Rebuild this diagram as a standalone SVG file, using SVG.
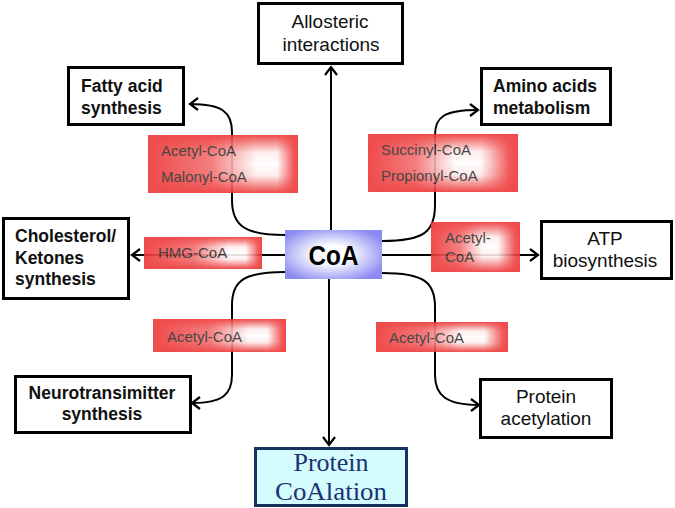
<svg xmlns="http://www.w3.org/2000/svg" width="675" height="508" viewBox="0 0 675 508">
<defs>
  <style>
    .box { fill: #ffffff; stroke: #000000; stroke-width: 3; }
    .bt { font-family: "Liberation Sans", Arial, sans-serif; font-size: 17.5px; font-weight: bold; fill: #111111; }
    .nt { font-family: "Liberation Sans", Arial, sans-serif; font-size: 19px; fill: #111111; }
    .lt { font-family: "Liberation Sans", Arial, sans-serif; font-size: 15px; fill: #333333; }
    .conn { fill: none; stroke: #000000; stroke-width: 2; }
    .lab { opacity: 0.9; }
  </style>
  <marker id="arr" markerUnits="userSpaceOnUse" markerWidth="14" markerHeight="14" viewBox="-12 -7 14 14" refX="0" refY="0" orient="auto">
    <path d="M -8 -6 L 0 0 L -8 6" fill="none" stroke="#000" stroke-width="2.2" stroke-linejoin="miter"/>
  </marker>
  <linearGradient id="h72" x1="0" y1="0" x2="1" y2="0">
    <stop offset="0" stop-color="#ee3838"/>
    <stop offset="0.38" stop-color="#f37272"/>
    <stop offset="0.64" stop-color="#ffffff"/>
    <stop offset="0.82" stop-color="#ffffff"/>
    <stop offset="0.96" stop-color="#f04a4a"/>
    <stop offset="1" stop-color="#ee3838"/>
  </linearGradient>
  <linearGradient id="h82" x1="0" y1="0" x2="1" y2="0">
    <stop offset="0" stop-color="#ee3838"/>
    <stop offset="0.42" stop-color="#f37272"/>
    <stop offset="0.72" stop-color="#ffffff"/>
    <stop offset="0.86" stop-color="#ffffff"/>
    <stop offset="0.97" stop-color="#f04a4a"/>
    <stop offset="1" stop-color="#ee3838"/>
  </linearGradient>
  <linearGradient id="h64" x1="0" y1="0" x2="1" y2="0">
    <stop offset="0" stop-color="#ee3838"/>
    <stop offset="0.32" stop-color="#f37272"/>
    <stop offset="0.58" stop-color="#ffffff"/>
    <stop offset="0.75" stop-color="#ffffff"/>
    <stop offset="0.94" stop-color="#f04a4a"/>
    <stop offset="1" stop-color="#ee3838"/>
  </linearGradient>
  <linearGradient id="vr" x1="0" y1="0" x2="0" y2="1">
    <stop offset="0" stop-color="#ee3838" stop-opacity="1"/>
    <stop offset="0.3" stop-color="#ee3838" stop-opacity="0.1"/>
    <stop offset="0.5" stop-color="#ee3838" stop-opacity="0"/>
    <stop offset="0.7" stop-color="#ee3838" stop-opacity="0.1"/>
    <stop offset="1" stop-color="#ee3838" stop-opacity="1"/>
  </linearGradient>
  <radialGradient id="coa" cx="0.48" cy="0.5" r="0.6">
    <stop offset="0" stop-color="#ffffff"/>
    <stop offset="0.3" stop-color="#ffffff"/>
    <stop offset="1" stop-color="#8a8af2"/>
  </radialGradient>
</defs>
<rect width="675" height="508" fill="#ffffff"/>

<g id="connectors">
  <path class="conn" d="M 331 230 L 331 67" marker-end="url(#arr)"/>
  <path class="conn" d="M 285 255 L 132 255" marker-end="url(#arr)"/>
  <path class="conn" d="M 382 255 L 538 255" marker-end="url(#arr)"/>
  <path class="conn" d="M 329 279 L 329 445" marker-end="url(#arr)"/>
  <path class="conn" d="M 285 235 C 245 235 232 226 232 200 L 232 132 C 232 112 222 104 190 104" marker-end="url(#arr)"/>
  <path class="conn" d="M 382 241 C 424 241 435 232 435 205 L 435 135 C 435 117 444 110 478 110" marker-end="url(#arr)"/>
  <path class="conn" d="M 285 272 C 245 272 232 280 232 305 L 232 375 C 232 395 222 403 192 403" marker-end="url(#arr)"/>
  <path class="conn" d="M 382 273 C 424 273 435 282 435 307 L 435 375 C 435 395 446 405 479 405" marker-end="url(#arr)"/>
</g>

<g id="label-acetyl-malonyl" class="lab">
  <rect x="148" y="135" width="150" height="58" fill="url(#h82)"/>
  <rect x="148" y="135" width="150" height="58" fill="url(#vr)"/>
  <text class="lt" x="161" y="156">Acetyl-CoA</text>
  <text class="lt" x="161" y="182">Malonyl-CoA</text>
</g>
<g id="label-hmg" class="lab">
  <rect x="144" y="237" width="118" height="32" fill="url(#h82)"/>
  <rect x="144" y="237" width="118" height="32" fill="url(#vr)"/>
  <text class="lt" x="158" y="258">HMG-CoA</text>
</g>
<g id="label-acetyl-ll" class="lab">
  <rect x="153" y="319" width="133" height="33" fill="url(#h82)"/>
  <rect x="153" y="319" width="133" height="33" fill="url(#vr)"/>
  <text class="lt" x="167" y="342">Acetyl-CoA</text>
</g>
<g id="label-succinyl" class="lab">
  <rect x="368" y="134" width="150" height="58" fill="url(#h64)"/>
  <rect x="368" y="134" width="150" height="58" fill="url(#vr)"/>
  <text class="lt" x="381" y="155">Succinyl-CoA</text>
  <text class="lt" x="381" y="181">Propionyl-CoA</text>
</g>
<g id="label-acetyl-r" class="lab">
  <rect x="431" y="222" width="89" height="50" fill="url(#h64)"/>
  <rect x="431" y="222" width="89" height="50" fill="url(#vr)"/>
  <text class="lt" x="445" y="243">Acetyl-</text>
  <text class="lt" x="445" y="262">CoA</text>
</g>
<g id="label-acetyl-lr" class="lab">
  <rect x="376" y="322" width="132" height="30" fill="url(#h72)"/>
  <rect x="376" y="322" width="132" height="30" fill="url(#vr)"/>
  <text class="lt" x="389" y="343">Acetyl-CoA</text>
</g>

<g id="coa">
  <rect x="285" y="230" width="97" height="49" fill="url(#coa)"/>
  <text x="333.5" y="265" text-anchor="middle" font-family="'Liberation Sans', Arial, sans-serif" font-size="28" font-weight="bold" fill="#000" textLength="50" lengthAdjust="spacingAndGlyphs">CoA</text>
</g>

<g id="allosteric">
  <rect class="box" x="258.5" y="3.5" width="144" height="60"/>
  <text class="nt" x="330" y="28" text-anchor="middle">Allosteric</text>
  <text class="nt" x="331" y="51" text-anchor="middle">interactions</text>
</g>
<g id="fatty-acid">
  <rect class="box" x="68.5" y="67.5" width="115" height="57"/>
  <text class="bt" x="81" y="92">Fatty acid</text>
  <text class="bt" x="81" y="114">synthesis</text>
</g>
<g id="amino-acids">
  <rect class="box" x="481.5" y="68.5" width="129" height="56"/>
  <text class="bt" x="493" y="92">Amino acids</text>
  <text class="bt" x="493" y="114">metabolism</text>
</g>
<g id="cholesterol">
  <rect class="box" x="3.5" y="218.5" width="125" height="80"/>
  <text class="bt" x="15" y="242">Cholesterol/</text>
  <text class="bt" x="15" y="264">Ketones</text>
  <text class="bt" x="15" y="285">synthesis</text>
</g>
<g id="atp">
  <rect class="box" x="541.5" y="221.5" width="130" height="57"/>
  <text class="nt" x="605" y="245" text-anchor="middle">ATP</text>
  <text class="nt" x="605" y="267" text-anchor="middle">biosynthesis</text>
</g>
<g id="neurotransmitter">
  <rect class="box" x="15.5" y="376.5" width="175" height="56"/>
  <text class="bt" x="102" y="399" text-anchor="middle">Neurotransimitter</text>
  <text class="bt" x="102" y="420" text-anchor="middle">synthesis</text>
</g>
<g id="protein-acetylation">
  <rect class="box" x="480.5" y="379.5" width="131" height="58"/>
  <text class="nt" x="546" y="403" text-anchor="middle">Protein</text>
  <text class="nt" x="546" y="425" text-anchor="middle">acetylation</text>
</g>
<g id="protein-coalation">
  <rect x="255.5" y="448.5" width="151" height="57" fill="#d4fbfd" stroke="#17305f" stroke-width="3"/>
  <text x="331" y="471" text-anchor="middle" font-family="'Liberation Serif', 'Times New Roman', serif" font-size="26" fill="#1c3270">Protein</text>
  <text x="331" y="500" text-anchor="middle" font-family="'Liberation Serif', 'Times New Roman', serif" font-size="26" fill="#1c3270" textLength="112" lengthAdjust="spacingAndGlyphs">CoAlation</text>
</g>
</svg>
